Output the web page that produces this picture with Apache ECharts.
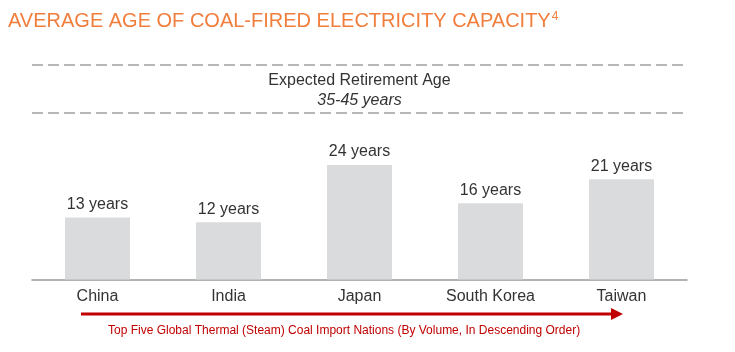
<!DOCTYPE html>
<html>
<head>
<meta charset="utf-8">
<script src="https://cdn.jsdelivr.net/npm/echarts@6/dist/echarts.min.js"></script>
<style>
  html, body { margin: 0; padding: 0; background: #fff; }
  #main { width: 735px; height: 352px; }
</style>
</head>
<body>
<div id="main"></div>
<script>
const countries = ['China', 'India', 'Japan', 'South Korea', 'Taiwan'];
const avgAge = [13, 12, 24, 16, 21];
const retirementRange = [35, 45];
const titleText = 'AVERAGE AGE OF COAL-FIRED ELECTRICITY CAPACITY';
const footnote = '4';
const arrowCaption = 'Top Five Global Thermal (Steam) Coal Import Nations (By Volume, In Descending Order)';

const font = '"Liberation Sans", Arial, sans-serif';
const myChart = echarts.init(document.getElementById('main'));

const option = {
  animation: false,
  textStyle: { fontFamily: font },
  title: {
    text: `{t|${titleText}}{s|${footnote}}`,
    left: 3,
    top: 6,
    textStyle: {
      fontWeight: 'normal',
      rich: {
        t: { fontSize: 20, color: '#F07E3C', fontFamily: font, fontWeight: 'normal' },
        s: { fontSize: 12, color: '#F07E3C', fontFamily: font, fontWeight: 'normal', verticalAlign: 'top', padding: [0, 0, 9, 1] },
      },
    },
  },
  grid: {
    left: 32,
    right: 48,
    top: 41,
    bottom: 72.5,
  },
  xAxis: {
    type: 'category',
    data: countries,
    axisLine: { lineStyle: { color: '#9a9a9a', width: 1.5 } },
    axisTick: { show: false },
    axisLabel: { color: '#333', fontSize: 16, margin: 9 },
  },
  yAxis: {
    type: 'value',
    min: 0,
    max: 50,
    show: false,
    splitLine: { show: false },
  },
  series: [
    {
      type: 'bar',
      data: avgAge,
      barWidth: 65,
      itemStyle: { color: '#dadbdc' },
      label: {
        show: true,
        position: 'top',
        distance: 5,
        fontSize: 16,
        color: '#333',
        formatter: p => `${p.value} years`,
      },
      markLine: {
        silent: true,
        symbol: 'none',
        label: { show: false },
        lineStyle: { type: [11, 5], color: '#a0a0a0', width: 1.5 },
        data: retirementRange.map(v => ({ yAxis: v })),
      },
      markArea: {
        silent: true,
        itemStyle: { color: 'rgba(0,0,0,0)' },
        label: {
          show: true,
          position: 'inside',
          offset: [0, 2],
          formatter: `{a|Expected Retirement Age}\n{b|${retirementRange[0]}-${retirementRange[1]} years}`,
          rich: {
            a: { fontSize: 16, color: '#333', lineHeight: 20, fontFamily: font },
            b: { fontSize: 16, color: '#333', lineHeight: 20, fontStyle: 'italic', fontFamily: font },
          },
        },
        data: [[{ yAxis: retirementRange[0] }, { yAxis: retirementRange[1] }]],
      },
    },
  ],
  graphic: [
    {
      type: 'line',
      shape: { x1: 81, y1: 314, x2: 613, y2: 314 },
      style: { stroke: '#C00000', lineWidth: 3 },
    },
    {
      type: 'polygon',
      shape: { points: [[611, 308], [623, 314], [611, 320]] },
      style: { fill: '#C00000' },
    },
    {
      type: 'text',
      left: 108,
      top: 324.5,
      style: { text: arrowCaption, fill: '#C00000', fontSize: 12, fontFamily: font },
    },
  ],
};

myChart.setOption(option);
</script>
</body>
</html>
